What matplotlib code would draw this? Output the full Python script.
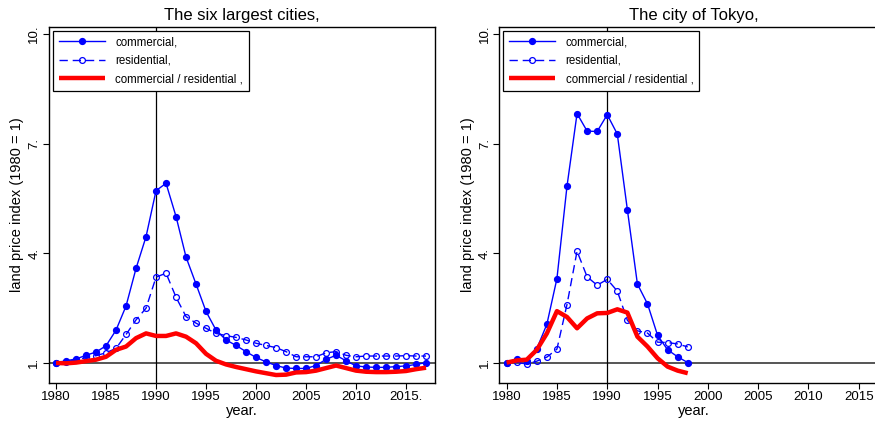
import numpy as np
import matplotlib.pyplot as plt

plt.rcParams['font.family'] = ['Liberation Sans', 'DejaVu Sans']

# six largest cities, 1980-2017 (index, 1980 = 1)
years_six = list(range(1980, 2018))
comm_six = [1.00, 1.05, 1.10, 1.20, 1.29, 1.46, 1.89, 2.55, 3.58, 4.45,
            5.71, 5.91, 5.00, 3.89, 3.15, 2.40, 1.89, 1.62, 1.47, 1.30,
            1.14, 1.02, 0.92, 0.85, 0.84, 0.84, 0.92, 1.09, 1.20, 1.05,
            0.91, 0.88, 0.87, 0.87, 0.89, 0.91, 0.95, 1.00]
res_six = [1.00, 1.03, 1.07, 1.14, 1.19, 1.27, 1.39, 1.77, 2.17, 2.49,
           3.34, 3.45, 2.79, 2.26, 2.08, 1.94, 1.80, 1.74, 1.69, 1.62,
           1.53, 1.47, 1.41, 1.30, 1.16, 1.16, 1.16, 1.27, 1.30, 1.20,
           1.16, 1.18, 1.18, 1.18, 1.18, 1.19, 1.18, 1.18]
ratio_six = [0.99, 0.98, 1.00, 1.04, 1.08, 1.16, 1.35, 1.44, 1.67, 1.80,
             1.73, 1.73, 1.80, 1.71, 1.53, 1.24, 1.05, 0.95, 0.88, 0.82,
             0.76, 0.71, 0.66, 0.67, 0.73, 0.74, 0.78, 0.85, 0.92, 0.85,
             0.78, 0.75, 0.74, 0.74, 0.75, 0.77, 0.82, 0.86]

# city of Tokyo, 1980-1998
years_tky = list(range(1980, 1999))
comm_tky = [1.00, 1.09, 1.05, 1.38, 2.05, 3.30, 5.83, 7.82, 7.34, 7.33,
            7.79, 7.26, 5.19, 3.15, 2.61, 1.75, 1.35, 1.16, 1.00]
res_tky = [1.00, 1.01, 0.96, 1.04, 1.15, 1.37, 2.59, 4.05, 3.35, 3.12,
           3.28, 2.96, 2.16, 1.87, 1.81, 1.56, 1.55, 1.51, 1.43]
ratio_tky = [1.00, 1.06, 1.08, 1.35, 1.80, 2.41, 2.25, 1.94, 2.21, 2.35,
             2.36, 2.46, 2.37, 1.71, 1.44, 1.12, 0.89, 0.78, 0.71]

xticks = [1980, 1985, 1990, 1995, 2000, 2005, 2010, 2015]
xlabels_six = ['1980', '1985', '1990', '1995', '2000', '2005', '2010', '2015.']
xlabels_tky = ['1980', '1985', '1990', '1995', '2000', '2005', '2010', '2015']
yticks = [1, 4, 7, 10]
yticklabels = ['1.', '4.', '7.', '10.']

panels = [
    ("The six largest cities,", years_six, comm_six, res_six, ratio_six,
     xlabels_six, [0.0557, 0.0910, 0.4415, 0.8456]),
    ("The city of Tokyo,", years_tky, comm_tky, res_tky, ratio_tky,
     xlabels_tky, [0.5706, 0.0910, 0.4442, 0.8456]),
]

fig = plt.figure(figsize=(8.75, 4.21), dpi=100)

for title, yrs, comm, res, ratio, xlabels, pos in panels:
    ax = fig.add_axes(pos)
    ax.axhline(1, color='#555555', lw=1.4, zorder=1)
    ax.axvline(1990, color='black', lw=0.9, zorder=1)
    ax.plot(yrs, comm, color='blue', lw=1.0, marker='o', ms=4.2,
            mfc='blue', mec='blue', label='commercial,', zorder=3)
    ax.plot(yrs, res, color='blue', lw=1.0, ls=(0, (6, 3.5)), marker='o',
            ms=4.2, mfc='none', mec='blue', mew=0.9,
            label='residential,', zorder=3)
    ax.plot(yrs, ratio, color='red', lw=3.2, label='commercial / residential ,',
            zorder=4, solid_capstyle='butt')

    ax.set_xlim(1979.27, 2017.9)
    ax.set_ylim(0.45, 10.2)
    ax.set_xticks(xticks)
    ax.set_xticklabels(xlabels, fontsize=9.5)
    ax.set_yticks(yticks)
    ax.set_yticklabels(yticklabels, fontsize=9.5, rotation=90, va='center')
    ax.tick_params(direction='out', length=4, width=0.8, pad=2)
    ax.set_xlabel('year.', fontsize=10.5, labelpad=1)
    ax.set_ylabel('land price index (1980 = 1)', fontsize=10.5, labelpad=3)
    ax.set_title(title, fontsize=12, pad=5)
    for s in ax.spines.values():
        s.set_linewidth(1.0)

    leg = ax.legend(loc='upper left', fontsize=8.3, fancybox=False,
                    edgecolor='black', framealpha=1, handlelength=4,
                    handletextpad=0.9, labelspacing=0.55, borderaxespad=0.35,
                    borderpad=0.5)
    leg.get_frame().set_linewidth(0.9)

fig.savefig('out.png', dpi=100)
